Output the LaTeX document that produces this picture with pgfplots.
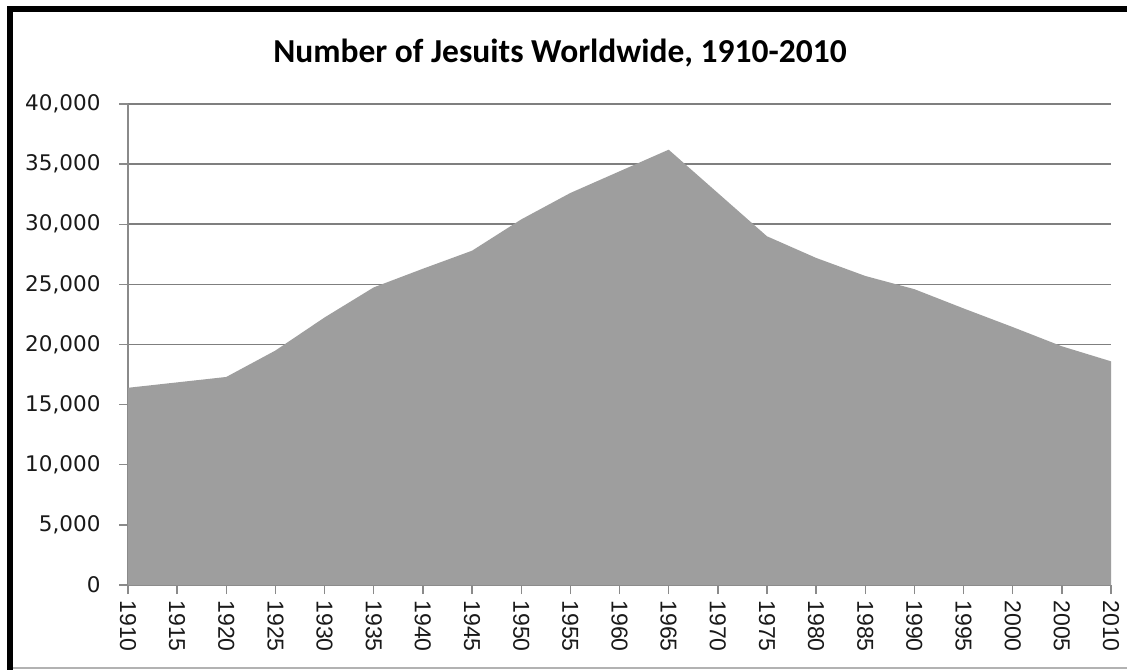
\documentclass[border=0pt]{standalone}
\usepackage{fontspec}
\usepackage{pgfplots}
\pgfplotsset{compat=1.18}
\newfontfamily\dejavu{DejaVu Sans}
\newfontfamily\libsans{Liberation Sans}
\newfontfamily\carlito{Carlito}
\definecolor{areagray}{HTML}{9E9E9E}
\definecolor{gridgray}{HTML}{7F7F7F}
\definecolor{axgray}{HTML}{8A8A8A}
\begin{document}
\begin{tikzpicture}[x=1pt,y=1pt]
\path[use as bounding box] (0,0) rectangle (1127,670);
\fill[white] (0,0) rectangle (1127,670);
\begin{axis}[
  at={(128pt,85pt)}, anchor=south west,
  scale only axis, width=983pt, height=481pt,
  xmin=1910, xmax=2010, ymin=0, ymax=40000,
  axis x line=bottom, axis y line=left,
  axis line style={-, draw=axgray, line width=1.6pt},
  ytick={0,5000,10000,15000,20000,25000,30000,35000,40000},
  yticklabels={0,{5,000},{10,000},{15,000},{20,000},{25,000},{30,000},{35,000},{40,000}},
  xtick={1910,1915,...,2010},
  xticklabels={1910,1915,1920,1925,1930,1935,1940,1945,1950,1955,1960,1965,1970,1975,1980,1985,1990,1995,2000,2005,2010},
  tick align=outside, major tick length=9pt,
  tick style={draw=axgray, line width=1.4pt},
  ymajorgrids, grid style={draw=gridgray, line width=1.6pt},
  yticklabel style={font=\dejavu\fontsize{21.5}{21.5}\selectfont, text=black!90, xshift=-15pt},
  xticklabel style={font=\libsans\fontsize{23}{23}\selectfont, text=black!90, rotate=-90, anchor=west, xshift=3pt},
  scaled y ticks=false,
]
\addplot[fill=areagray, draw=none] coordinates {
(1910,16400) (1915,16850) (1920,17300) (1925,19500) (1930,22250)
(1935,24750) (1940,26300) (1945,27800) (1950,30400) (1955,32600)
(1960,34400) (1965,36200) (1970,32600) (1975,29000) (1980,27200)
(1985,25700) (1990,24600) (1995,23000) (2000,21450) (2005,19850)
(2010,18600)} \closedcycle;
\end{axis}
\node[font=\carlito\bfseries\fontsize{33.5}{33.5}\selectfont, anchor=base] at (560,607) {Number of Jesuits Worldwide, 1910-2010};
\fill[black] (7,0) rectangle (13,663.5);
\fill[black] (7,658) rectangle (1127,663.5);
\draw[gray!60, line width=1.5pt] (13,2) -- (1127,2);
\end{tikzpicture}
\end{document}
